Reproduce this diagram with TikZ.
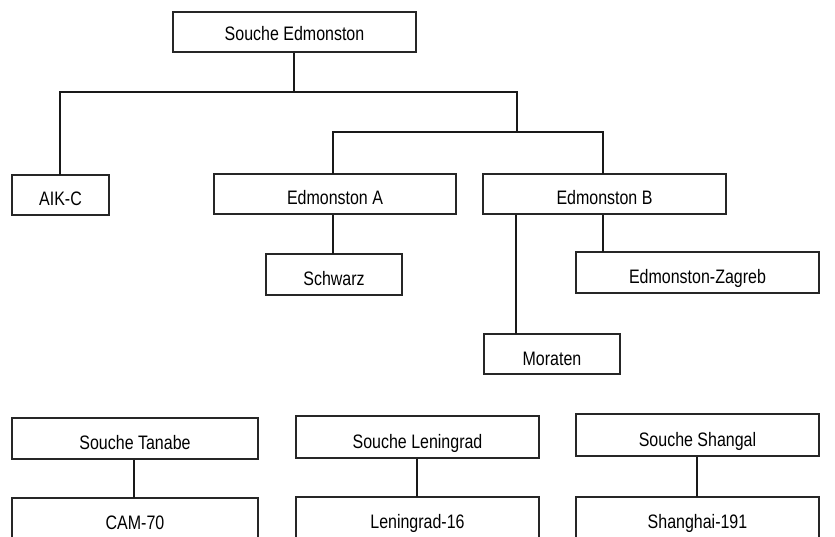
\documentclass[tikz,border=0pt]{standalone}
\usepackage{fontspec}
\setmainfont{Liberation Sans}[FakeStretch=0.82]
\begin{document}
\begin{tikzpicture}[x=1pt,y=-1pt,
  box/.style={draw=black!85,line width=1.3pt,rectangle,inner sep=0pt,
    minimum height=40pt,text height=22pt,text depth=0pt,
    font=\fontsize{19.5}{21}\selectfont},
  wide/.style={box,minimum width=243pt},
  narrow/.style={box,minimum width=136pt},
  conn/.style={draw=black!90,line width=2pt}]
\useasboundingbox[fill=white] (0,0) rectangle (835,537);
% top tree
\node[wide,text height=18pt] (se) at (294.5,32) {Souche Edmonston};
\node[box,minimum width=97pt] (aik) at (60.5,195) {AIK-C};
\node[wide,minimum width=242pt] (ea) at (335,194) {Edmonston A};
\node[wide] (eb) at (604.5,194) {Edmonston B};
\node[narrow,minimum height=41pt] (sch) at (334,274.5) {Schwarz};
\node[wide,minimum height=41pt] (ez) at (697.5,272.5) {Edmonston-Zagreb};
\node[narrow] (mor) at (552,354) {Moraten};
% bottom row
\node[box,minimum width=246pt,minimum height=41pt] (tan) at (135,438.5) {Souche Tanabe};
\node[box,minimum width=246pt,minimum height=41pt] (cam) at (135,518.5) {CAM-70};
\node[wide,minimum height=42pt] (len) at (417.5,437) {Souche Leningrad};
\node[wide,minimum height=41pt] (len16) at (417.5,517.5) {Leningrad-16};
\node[wide,minimum height=42pt] (sha) at (697.5,435) {Souche Shangal};
\node[wide,minimum height=41pt] (sha191) at (697.5,517.5) {Shanghai-191};
% junctions
\coordinate (j0) at (294,52);
\coordinate (j1) at (294,92);
\coordinate (j2) at (517,92);
\coordinate (j3) at (517,132);
\coordinate (aktop) at (60,175);
\coordinate (eatop) at (333,174);
\coordinate (ebtop) at (603,174);
\coordinate (mtop) at (516,334);
\coordinate (eztop) at (603,252);
\coordinate (sctop) at (333,254);
\coordinate (tatop) at (134,498);
\coordinate (letop) at (417,497);
\coordinate (shtop) at (697,497);
% connectors
\draw[conn] (se.south -| j0) -- (j1) -| (aktop);
\draw[conn] (j1) -- (j2) -- (j3);
\draw[conn] (j3) -| (eatop);
\draw[conn] (j3) -| (ebtop);
\draw[conn] (ea.south -| sctop) -- (sctop);
\draw[conn] (eb.south -| mtop) -- (mtop);
\draw[conn] (eb.south -| eztop) -- (eztop);
\draw[conn] (tan.south -| tatop) -- (tatop);
\draw[conn] (len.south -| letop) -- (letop);
\draw[conn] (sha.south -| shtop) -- (shtop);
\end{tikzpicture}
\end{document}
